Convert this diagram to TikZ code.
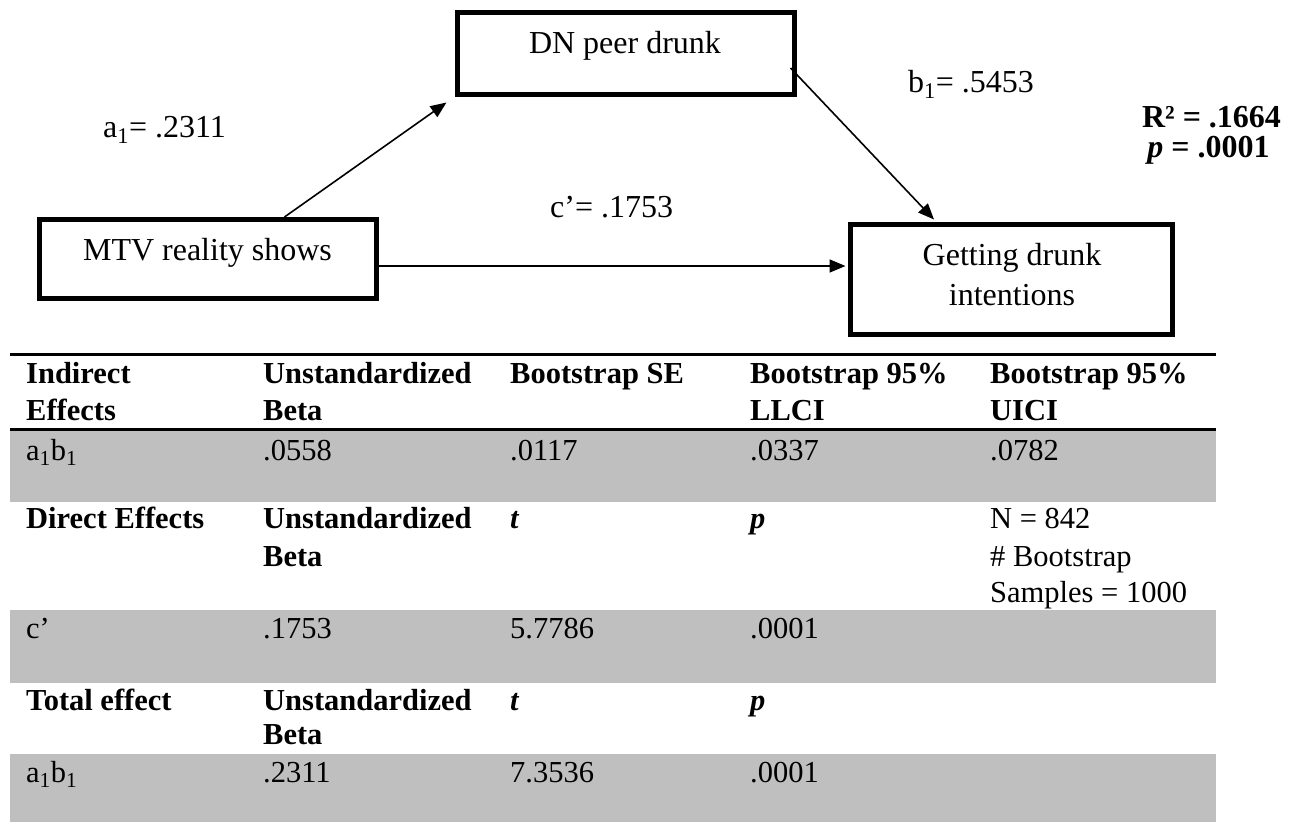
\documentclass[tikz,border=0pt]{standalone}
\usepackage{fontspec}
\setmainfont{Liberation Serif}
\usetikzlibrary{arrows.meta,calc}
\definecolor{cellgray}{RGB}{191,191,191}
\begin{document}
\begin{tikzpicture}[x=1pt,y=-1pt,
  box/.style={draw,line width=5pt,inner sep=0pt},
  dtxt/.style={inner sep=0pt,font=\fontsize{32}{38}\selectfont},
  dbold/.style={inner sep=0pt,font=\fontsize{32}{38}\selectfont\bfseries},
  ttxt/.style={anchor=base west,inner sep=0pt,font=\fontsize{30.5}{37}\selectfont},
  thd/.style={anchor=base west,inner sep=0pt,font=\fontsize{30.5}{37}\selectfont\bfseries},
  conn/.style={line width=1.6pt,-{Triangle[length=16pt,width=13pt]}},
  rowfill/.style={fill=cellgray,draw=none},
  rulebar/.style={line width=3pt}]
\useasboundingbox (0,0) rectangle (1298,822);

% ---------- diagram ----------
\node[box,minimum width=337pt,minimum height=82pt] (dn) at (626,53.5) {};
\node[box,minimum width=337pt,minimum height=79pt] (mtv) at (208,259) {};
\node[box,minimum width=322pt,minimum height=110pt] (gd) at (1011.5,279.5) {};

\node[dtxt,anchor=base] (dnt) at (625,53) {DN peer drunk};
\node[dtxt,anchor=base] (mtvt) at (207.5,260) {MTV reality shows};
\node[dtxt,anchor=base] (gdt1) at (1012,265) {Getting drunk};
\node[dtxt,anchor=base] (gdt2) at (1012,305) {intentions};

\draw[conn] ([xshift=247.5pt]mtv.north west) -- ([xshift=-8.5pt,yshift=-5.5pt]dn.south west);
\draw[conn] ([xshift=-6.5pt,yshift=-14.5pt]dn.east) -- ([xshift=-77.5pt,yshift=2.5pt]gd.north);
\draw[conn] ([yshift=-7pt]mtv.east) -- ([xshift=-2.5pt,yshift=13.5pt]gd.west);

\node[dtxt,anchor=base west] (la) at (103,137) {a\textsubscript{1}= .2311};
\node[dtxt,anchor=base west] (lb) at (908,92) {b\textsubscript{1}= .5453};
\node[dtxt,anchor=base west] (lc) at (550,217) {c’= .1753};
\node[dbold,anchor=base] (r2) at (1211.5,127) {R² = .1664};
\node[dbold,anchor=base] (pv) at (1208.5,157) {\textit{p} = .0001};

% ---------- table ----------
\fill[rowfill] (10,429) rectangle (1216,502);
\fill[rowfill] (10,610) rectangle (1216,683);
\fill[rowfill] (10,754) rectangle (1216,822);
\coordinate (r1l) at (10,354); \coordinate (r1r) at (1216,354);
\coordinate (r2l) at (10,429); \coordinate (r2r) at (1216,429);
\draw[rulebar] (r1l) -- (r1r);
\draw[rulebar] (r2l) -- (r2r);

% header
\node[thd] (h1a) at (26,383) {Indirect};
\node[thd] (h1b) at (26,420) {Effects};
\node[thd] (h2a) at (263,383) {Unstandardized};
\node[thd] (h2b) at (263,420) {Beta};
\node[thd] (h3a) at (510,383) {Bootstrap SE};
\node[thd] (h4a) at (750,383) {Bootstrap 95\%};
\node[thd] (h4b) at (750,420) {LLCI};
\node[thd] (h5a) at (990,383) {Bootstrap 95\%};
\node[thd] (h5b) at (990,420) {UICI};

% row 1
\node[ttxt] (c11) at (26,460) {a\textsubscript{1}b\textsubscript{1}};
\node[ttxt] (c12) at (263,460) {.0558};
\node[ttxt] (c13) at (510,460) {.0117};
\node[ttxt] (c14) at (750,460) {.0337};
\node[ttxt] (c15) at (990,460) {.0782};

% direct header
\node[thd] (d1) at (26,528) {Direct Effects};
\node[thd] (d2a) at (263,528) {Unstandardized};
\node[thd] (d2b) at (263,566) {Beta};
\node[thd] (d3) at (510,528) {\textit{t}};
\node[thd] (d4) at (750,528) {\textit{p}};
\node[ttxt] (d5a) at (990,528) {N = 842};
\node[ttxt] (d5b) at (990,566) {\# Bootstrap};
\node[ttxt] (d5c) at (990,602) {Samples = 1000};

% row c'
\node[ttxt] (c21) at (26,638) {c’};
\node[ttxt] (c22) at (263,638) {.1753};
\node[ttxt] (c23) at (510,638) {5.7786};
\node[ttxt] (c24) at (750,638) {.0001};

% total header
\node[thd] (t1) at (26,710) {Total effect};
\node[thd] (t2a) at (263,710) {Unstandardized};
\node[thd] (t2b) at (263,744) {Beta};
\node[thd] (t3) at (510,710) {\textit{t}};
\node[thd] (t4) at (750,710) {\textit{p}};

% last row
\node[ttxt] (c31) at (26,782) {a\textsubscript{1}b\textsubscript{1}};
\node[ttxt] (c32) at (263,782) {.2311};
\node[ttxt] (c33) at (510,782) {7.3536};
\node[ttxt] (c34) at (750,782) {.0001};
\end{tikzpicture}
\end{document}
